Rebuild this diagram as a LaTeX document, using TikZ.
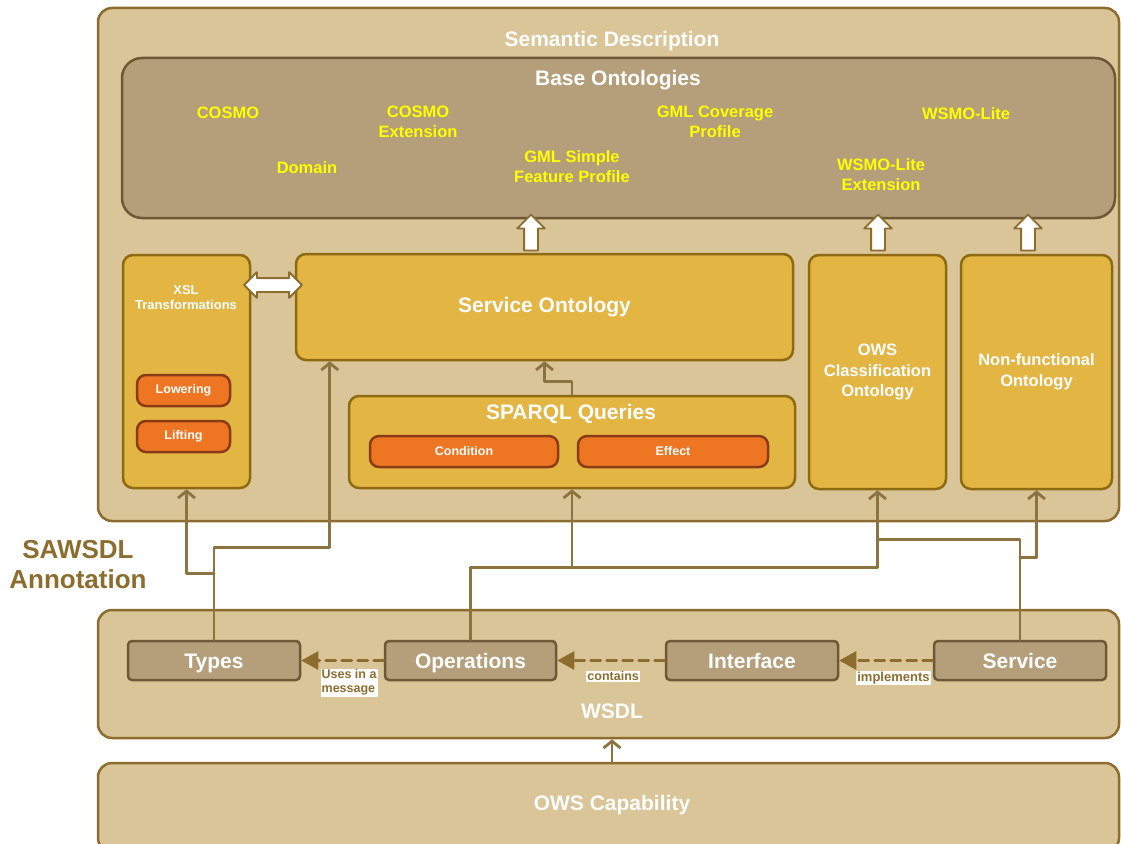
\documentclass[tikz,border=0pt]{standalone}
\usepackage{fontspec}
\setmainfont{Liberation Sans}
\usetikzlibrary{arrows.meta,shapes.arrows}

\definecolor{tanfill}{HTML}{D9C597}
\definecolor{tanline}{HTML}{8C6D2E}
\definecolor{basefill}{HTML}{B59F7B}
\definecolor{basedraw}{HTML}{6E5836}
\definecolor{goldfill}{HTML}{E3B542}
\definecolor{golddraw}{HTML}{8E6A12}
\definecolor{orfill}{HTML}{EE7623}
\definecolor{ordraw}{HTML}{8A3B18}
\definecolor{ontoyellow}{HTML}{FFFF00}
\definecolor{linkcol}{HTML}{8C7340}

\tikzset{
  layer/.style={draw=tanline, fill=tanfill, line width=2.5pt, rounded corners=14pt},
  basebox/.style={draw=basedraw, fill=basefill, line width=2.5pt, rounded corners=20pt},
  goldbox/.style={draw=golddraw, fill=goldfill, line width=2.5pt, rounded corners=10pt},
  pill/.style={draw=ordraw, fill=orfill, line width=2.5pt, rounded corners=9pt,
    minimum height=31pt, font=\fontsize{12.5}{14}\selectfont\bfseries},
  part/.style={draw=basedraw, fill=basefill, line width=2.5pt, rounded corners=4pt,
    minimum width=172pt, minimum height=39pt, text height=15pt, text depth=0pt,
    font=\fontsize{21}{24}\selectfont\bfseries},
  title/.style={font=\fontsize{21}{24}\selectfont\bfseries},
  midtitle/.style={font=\fontsize{16.5}{20.5}\selectfont\bfseries},
  smalltitle/.style={font=\fontsize{13}{15}\selectfont\bfseries},
  onto/.style={text=ontoyellow, font=\fontsize{16.5}{20}\selectfont\bfseries},
  upblock/.style={single arrow, draw=tanline, fill=white, line width=1.8pt, rotate=90,
    minimum height=36pt, inner sep=6pt, single arrow head extend=7pt},
  twoway/.style={double arrow, draw=tanline, fill=white, line width=1.8pt,
    minimum height=58pt, inner sep=6pt, double arrow head extend=6pt},
  annot/.style={draw=linkcol, line width=2.8pt, -{Straight Barb[length=7pt,width=17pt]}},
  plainlink/.style={draw=linkcol, line width=2.8pt},
  dep/.style={draw=tanline, line width=2.8pt, dash pattern=on 10pt off 6pt,
    -{Triangle[length=17pt,width=18pt]}},
  deplabel/.style={fill=white, text=tanline, inner sep=1pt,
    font=\fontsize{12.5}{14}\selectfont\bfseries, align=left}
}

\begin{document}
\begin{tikzpicture}[x=1pt, y=-1pt, line cap=round, line join=round,
  every node/.style={text=white, align=center}]
  \useasboundingbox (0,0) rectangle (1121,843);
  \clip (0,0) rectangle (1121,843);

  % semantic description with the base ontologies
  \node[layer, minimum width=1021pt, minimum height=513pt] (sd) at (608.5,264.5) {};
  \node[title] (sdtitle) at (612,41) {Semantic Description};
  \node[basebox, minimum width=993pt, minimum height=160pt] (base) at (618.5,138) {};
  \node[title] (basetitle) at (618,80) {Base Ontologies};
  \node[onto] (cosmo) at (228,113) {COSMO};
  \node[onto] (cosmoext) at (418,122) {COSMO\\Extension};
  \node[onto] (domain) at (307,168) {Domain};
  \node[onto] (gmlsf) at (572,167) {GML Simple\\Feature Profile};
  \node[onto] (gmlcov) at (715,122) {GML Coverage\\Profile};
  \node[onto] (wsmo) at (966,114) {WSMO-Lite};
  \node[onto] (wsmoext) at (881,175) {WSMO-Lite\\Extension};

  % service level ontologies
  \node[goldbox, minimum width=127pt, minimum height=233pt] (xsl) at (186.5,371.5) {};
  \node[smalltitle] (xsltitle) at (186,298) {XSL\\Transformations};
  \node[pill, minimum width=93pt] (lower) at (183.5,390.5) {Lowering};
  \node[pill, minimum width=93pt] (lift) at (183.5,436.5) {Lifting};
  \node[goldbox, title, minimum width=497pt, minimum height=106pt] (so) at (544.5,307) {Service Ontology};
  \node[goldbox, minimum width=446pt, minimum height=92pt] (sparql) at (572,442) {};
  \node[title] (sparqltitle) at (571,414) {SPARQL Queries};
  \node[pill, minimum width=188pt] (cond) at (464,451.5) {Condition};
  \node[pill, minimum width=190pt] (effect) at (673,451.5) {Effect};
  \node[goldbox, midtitle, minimum width=137pt, minimum height=234pt] (ows) at (877.5,372) {OWS\\Classification\\Ontology};
  \node[goldbox, midtitle, minimum width=151pt, minimum height=234pt] (nf) at (1036.5,372) {Non-functional\\Ontology};

  % block arrows
  \node[upblock] (soup) at (531,236) {};
  \node[upblock] (owsup) at (878,236) {};
  \node[upblock] (nfup) at (1028,236) {};
  \node[twoway] (xslso) at (273,285) {};
  \draw[annot] (sparql.north) -- ++(0,-13) -| (so.south);

  % wsdl
  \node[layer, minimum width=1021pt, minimum height=128pt] (wsdl) at (608.5,674) {};
  \node[title] (wsdltitle) at (612,711) {WSDL};
  \node[part] (types) at (214,660.5) {Types};
  \node[part, minimum width=171pt] (ops) at (470.5,660.5) {Operations};
  \node[part] (iface) at (752,660.5) {Interface};
  \node[part] (srv) at (1020,660.5) {Service};
  \draw[dep] (ops) -- (types) node[deplabel, pos=0.42, below=7pt] {Uses in a\\message};
  \draw[dep] (iface) -- (ops) node[deplabel, pos=0.48, below=9pt] {contains};
  \draw[dep] (srv) -- (iface) node[deplabel, pos=0.42, below=9pt, font=\fontsize{13}{14}\selectfont\bfseries] {implements};

  \node[layer, minimum width=1021pt, minimum height=89pt] (cap) at (608.5,807.5) {};
  \node[title] (captitle) at (612,805) {OWS Capability};
  \draw[annot] (captitle |- cap.north) -- (captitle |- wsdl.south);

  % sawsdl annotation links
  \node[title, text=tanline, font=\fontsize{26}{30}\selectfont\bfseries] (sawsdl) at (78,565) {SAWSDL\\Annotation};
  \draw[annot] (types.north) -- ++(0,-92) -| ([xshift=35pt]so.south west);
  \draw[annot] (types.north) ++(0,-66) -| (xsl.south);
  \draw[annot] (ops.north) -- ++(0,-72) -| (ows.south);
  \draw[annot] (ops.north) ++(0,-72) -| (sparql.south);
  \draw[plainlink] (srv.north) |- ([yshift=-49pt]ows.south);
  \draw[annot] (srv.north) ++(0,-82) -| (nf.south);
\end{tikzpicture}
\end{document}
